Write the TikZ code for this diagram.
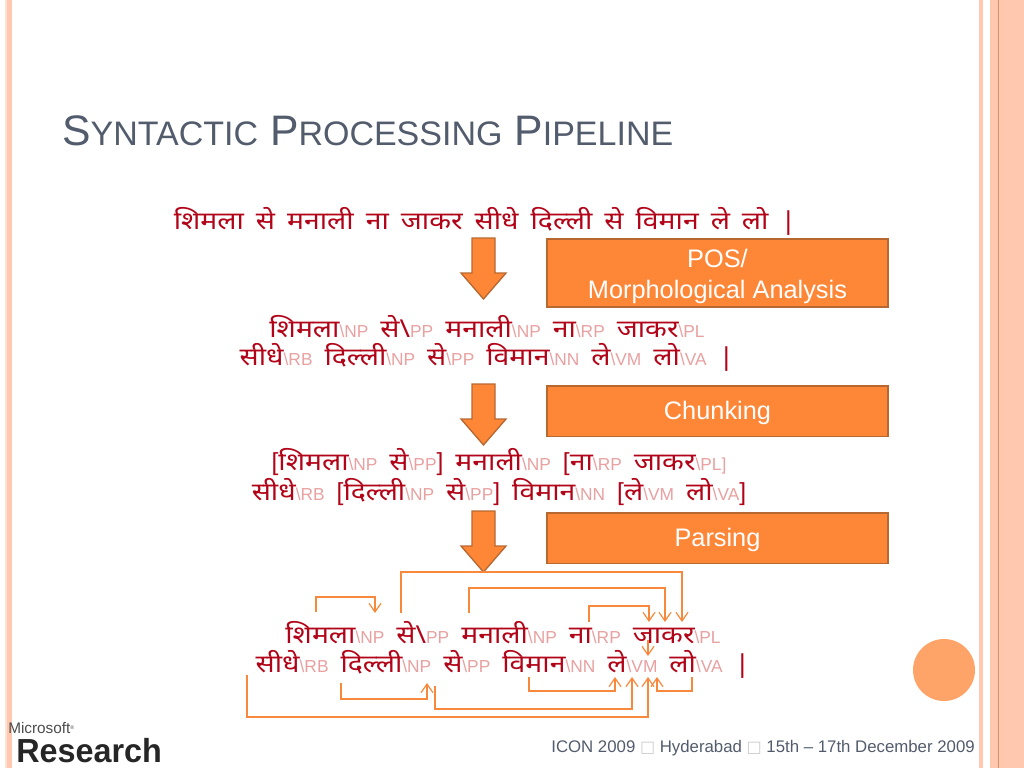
\documentclass[tikz,border=0pt]{standalone}
\usepackage{fontspec}
\setmainfont{Liberation Sans}
\newfontfamily\hindi[Script=Devanagari,FakeStretch=1.15]{Noto Sans}
\newfontfamily\symb{DejaVu Sans}
\usetikzlibrary{shapes,arrows,arrows.meta,positioning,calc}
\definecolor{slideorange}{RGB}{254,134,55}
\definecolor{edgeorange}{RGB}{182,104,48}
\definecolor{linkorange}{RGB}{247,136,60}
\definecolor{peach}{RGB}{255,200,175}
\definecolor{titlegrey}{RGB}{82,92,108}
\definecolor{wordred}{RGB}{178,4,24}
\definecolor{tagpink}{RGB}{232,160,160}
\newcommand{\w}[1]{{\hindi #1}}
\newcommand{\tg}[1]{{\fontsize{13}{13}\selectfont\color{tagpink}\textbackslash #1}}
\newcommand{\br}[1]{{\fontsize{13}{13}\selectfont\color{tagpink} #1}}
\newcommand{\gp}{\hspace{9pt}}
\tikzset{
  stepbox/.style={draw=edgeorange, line width=1.2pt, fill=slideorange, inner sep=0pt, anchor=north west, minimum width=256pt},
  steplabel/.style={text=white, font=\fontsize{19}{23}\selectfont, align=center, inner sep=0pt, yshift=-1.5pt},
  bigarrow/.style={draw=edgeorange, line width=1pt, fill=slideorange},
  wordline/.style={text=wordred, font=\fontsize{18.5}{18.5}\selectfont, inner sep=0pt},
  linkarrow/.style={draw=linkorange, line width=0.9pt, -{Straight Barb[length=6.5pt,width=9pt]}},
  stripe/.style={fill=peach, draw=none}
}
\begin{document}
\begin{tikzpicture}[x=0.75pt,y=-0.75pt]
    \useasboundingbox (0,0) rectangle (1024,768);
    % side stripes
    \fill[peach!50] (5,0) rectangle (7,768);
    \fill[stripe] (7,0) rectangle (12,768);
    \fill[stripe] (979,0) rectangle (983,768);
    \fill[stripe] (990,0) rectangle (1024,768);
    \draw[edgeorange!70, line width=0.7pt] (998,0) -- (998,768);
    % title
    \node[text=titlegrey, anchor=base west, inner sep=0pt, font=\fontsize{32}{32}\selectfont] (title) at (62,145)
      {S{\fontsize{25.5}{25.5}\selectfont YNTACTIC} P{\fontsize{25.5}{25.5}\selectfont ROCESSING} P{\fontsize{25.5}{25.5}\selectfont IPELINE}};
    % sentence lines
    \node[wordline] (l0) at (485,221) {\w{शिमला}\gp\w{से}\gp\w{मनाली}\gp\w{ना}\gp\w{जाकर}\gp\w{सीधे}\gp\w{दिल्ली}\gp\w{से}\gp\w{विमान}\gp\w{ले}\gp\w{लो}\gp\w{|}};
    \node[wordline] (l1) at (487,327) {\w{शिमला}\tg{NP}\gp\w{से\textbackslash}\br{PP}\gp\w{मनाली}\tg{NP}\gp\w{ना}\tg{RP}\gp\w{जाकर}\tg{PL}};
    \node[wordline] (l2) at (487,357) {\w{सीधे}\tg{RB}\gp\w{दिल्ली}\tg{NP}\gp\w{से}\tg{PP}\gp\w{विमान}\tg{NN}\gp\w{ले}\tg{VM}\gp\w{लो}\tg{VA}\gp\w{|}};
    \node[wordline] (l3) at (499,462) {[\w{शिमला}\tg{NP}\gp\w{से}\tg{PP}]\gp\w{मनाली}\tg{NP}\gp[\w{ना}\tg{RP}\gp\w{जाकर}\tg{PL}\br{]}};
    \node[wordline] (l4) at (499,492) {\w{सीधे}\tg{RB}\gp[\w{दिल्ली}\tg{NP}\gp\w{से}\tg{PP}]\gp\w{विमान}\tg{NN}\gp[\w{ले}\tg{VM}\gp\w{लो}\tg{VA}]};
    \node[wordline] (l5) at (503,633) {\w{शिमला}\tg{NP}\gp\w{से\textbackslash}\br{PP}\gp\w{मनाली}\tg{NP}\gp\w{ना}\tg{RP}\gp\w{जाकर}\tg{PL}};
    \node[wordline] (l6) at (503,664) {\w{सीधे}\tg{RB}\gp\w{दिल्ली}\tg{NP}\gp\w{से}\tg{PP}\gp\w{विमान}\tg{NN}\gp\w{ले}\tg{VM}\gp\w{लो}\tg{VA}\gp\w{|}};
    % step boxes
    \node[stepbox, minimum height=51pt, label={[steplabel, yshift=-1pt]center:POS/\\Morphological Analysis}] (pos) at (546,238) {};
    \node[stepbox, minimum height=38pt, label={[steplabel]center:Chunking}] (chunk) at (546,385) {};
    \node[stepbox, minimum height=38pt, label={[steplabel]center:Parsing}] (parse) at (546,512) {};
    % block arrows
    \foreach \ytop/\name in {238/aa,384/ab,511/ac} {
      \draw[bigarrow] (472,\ytop) -- (495,\ytop) -- (495,\ytop+35) -- (506,\ytop+35) -- (483.5,\ytop+61) -- (461,\ytop+35) -- (472,\ytop+35) -- cycle;
    }
    % links above the text
    \coordinate (a1) at (316,612); \coordinate (b1) at (375,613);
    \coordinate (a2) at (401,613); \coordinate (b2) at (682,622);
    \coordinate (a3) at (469,613); \coordinate (b3) at (665,622);
    \coordinate (a4) at (589,622); \coordinate (b4) at (649,622);
    \coordinate (a5) at (648,640); \coordinate (b5) at (648,656);
    \draw[linkarrow] (a1) |- (345,597) -| (b1);
    \draw[linkarrow] (a2) |- (540,572) -| (b2);
    \draw[linkarrow] (a3) |- (560,588) -| (b3);
    \draw[linkarrow] (a4) |- (620,606) -| (b4);
    \draw[linkarrow] (a5) -- (b5);
    % links below the text
    \coordinate (c1) at (247,675); \coordinate (d1) at (648,677);
    \coordinate (c2) at (341,683); \coordinate (d2) at (427,683);
    \coordinate (c3) at (435,686); \coordinate (d3) at (632,677);
    \coordinate (c4) at (529,677); \coordinate (d4) at (615,677);
    \coordinate (c5) at (692,677); \coordinate (d5) at (657,677);
    \draw[linkarrow] (c1) |- (450,717) -| (d1);
    \draw[linkarrow] (c2) |- (385,699) -| (d2);
    \draw[linkarrow] (c3) |- (530,709) -| (d3);
    \draw[linkarrow] (c4) |- (570,691) -| (d4);
    \draw[linkarrow] (c5) |- (675,691) -| (d5);
    % circle and footer
    \node[circle, fill=slideorange!75, minimum size=46.5pt, inner sep=0pt] (dot) at (944,670) {};
    \node[anchor=base east, inner sep=0pt, text=titlegrey, font=\fontsize{12.6}{12.6}\selectfont] (foot) at (975,752)
      {ICON 2009 {\symb\fontsize{12}{12}\selectfont\color{gray!40}□} Hyderabad {\symb\fontsize{12}{12}\selectfont\color{gray!40}□} 15th – 17th December 2009};
    % logo
    \node[anchor=base west, inner sep=0pt, text=black!70, font=\fontsize{11.5}{11.5}\selectfont] (ms) at (8,733) {Microsoft\raisebox{3pt}{\fontsize{4}{4}\selectfont ®}};
    \node[anchor=base west, inner sep=0pt, xscale=0.97, text=black!85, font=\bfseries\fontsize{25}{25}\selectfont] (res) at (16,762) {Research};
\end{tikzpicture}
\end{document}
